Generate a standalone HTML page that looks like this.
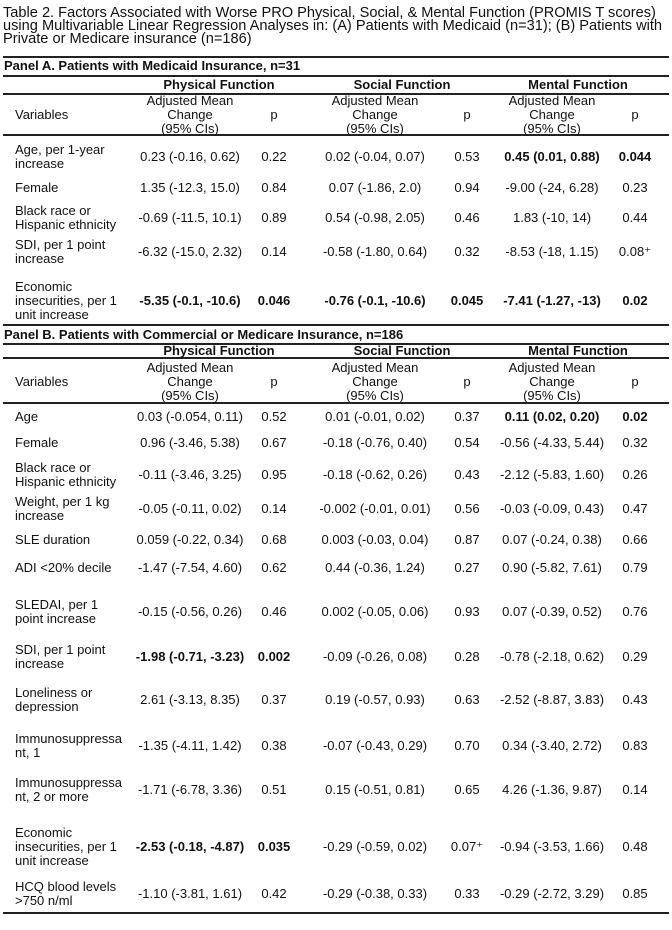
<!DOCTYPE html>
<html><head><meta charset="utf-8"><style>
body{margin:0;background:#fff;width:672px;height:930px;position:relative;overflow:hidden;font-family:"Liberation Sans",Arial,sans-serif;color:#111;}
.t{position:absolute;font-size:13px;line-height:14px;white-space:nowrap;}
.c{transform:translate(-50%,-50%);text-align:center;}
.l{transform:translate(0,-50%);}
.b{font-weight:bold;}
.hr{position:absolute;left:3px;width:666px;height:1.5px;background:#222;}
#title{position:absolute;left:3px;top:7px;font-size:14.6px;line-height:12.8px;}
</style></head><body>
<div id="title">Table 2. Factors Associated with Worse PRO Physical, Social, &amp; Mental Function (PROMIS T scores)<br>using Multivariable Linear Regression Analyses in: (A) Patients with Medicaid (n=31); (B) Patients with<br>Private or Medicare insurance (n=186)</div>
<script>
const colX=[190,274,375,467,552,635];
const groupX=[219,402,578];
const groups=["Physical Function","Social Function","Mental Function"];
const varsA=["Age, per 1-year<br>increase","Female","Black race or<br>Hispanic ethnicity","SDI, per 1 point<br>increase","Economic<br>insecurities, per 1<br>unit increase"];
const yA=[157,188,218,252,301];
const valsA=[
["0.23 (-0.16, 0.62)","0.22","0.02 (-0.04, 0.07)","0.53","*0.45 (0.01, 0.88)","*0.044"],
["1.35 (-12.3, 15.0)","0.84","0.07 (-1.86, 2.0)","0.94","-9.00 (-24, 6.28)","0.23"],
["-0.69 (-11.5, 10.1)","0.89","0.54 (-0.98, 2.05)","0.46","1.83 (-10, 14)","0.44"],
["-6.32 (-15.0, 2.32)","0.14","-0.58 (-1.80, 0.64)","0.32","-8.53 (-18, 1.15)","0.08⁺"],
["*-5.35 (-0.1, -10.6)","*0.046","*-0.76 (-0.1, -10.6)","*0.045","*-7.41 (-1.27, -13)","*0.02"]];
const varsB=["Age","Female","Black race or<br>Hispanic ethnicity","Weight, per 1 kg<br>increase","SLE duration","ADI &lt;20% decile","SLEDAI, per 1<br>point increase","SDI, per 1 point<br>increase","Loneliness or<br>depression","Immunosuppressa<br>nt, 1","Immunosuppressa<br>nt, 2 or more","Economic<br>insecurities, per 1<br>unit increase","HCQ blood levels<br>&gt;750 n/ml"];
const yB=[417,443,475,509,540,568,612,657,700,746,790,847,894];
const valsB=[
["0.03 (-0.054, 0.11)","0.52","0.01 (-0.01, 0.02)","0.37","*0.11 (0.02, 0.20)","*0.02"],
["0.96 (-3.46, 5.38)","0.67","-0.18 (-0.76, 0.40)","0.54","-0.56 (-4.33, 5.44)","0.32"],
["-0.11 (-3.46, 3.25)","0.95","-0.18 (-0.62, 0.26)","0.43","-2.12 (-5.83, 1.60)","0.26"],
["-0.05 (-0.11, 0.02)","0.14","-0.002 (-0.01, 0.01)","0.56","-0.03 (-0.09, 0.43)","0.47"],
["0.059 (-0.22, 0.34)","0.68","0.003 (-0.03, 0.04)","0.87","0.07 (-0.24, 0.38)","0.66"],
["-1.47 (-7.54, 4.60)","0.62","0.44 (-0.36, 1.24)","0.27","0.90 (-5.82, 7.61)","0.79"],
["-0.15 (-0.56, 0.26)","0.46","0.002 (-0.05, 0.06)","0.93","0.07 (-0.39, 0.52)","0.76"],
["*-1.98 (-0.71, -3.23)","*0.002","-0.09 (-0.26, 0.08)","0.28","-0.78 (-2.18, 0.62)","0.29"],
["2.61 (-3.13, 8.35)","0.37","0.19 (-0.57, 0.93)","0.63","-2.52 (-8.87, 3.83)","0.43"],
["-1.35 (-4.11, 1.42)","0.38","-0.07 (-0.43, 0.29)","0.70","0.34 (-3.40, 2.72)","0.83"],
["-1.71 (-6.78, 3.36)","0.51","0.15 (-0.51, 0.81)","0.65","4.26 (-1.36, 9.87)","0.14"],
["*-2.53 (-0.18, -4.87)","*0.035","-0.29 (-0.59, 0.02)","0.07⁺","-0.94 (-3.53, 1.66)","0.48"],
["-1.10 (-3.81, 1.61)","0.42","-0.29 (-0.38, 0.33)","0.33","-0.29 (-2.72, 3.29)","0.85"]];
const linesY=[57,76,94,135,325,344,358,403,913];
function txt(html,x,y,cls,name){
  const d=document.createElement('div');
  d.className='t '+cls;d.innerHTML=html;d.style.left=x+'px';d.style.top=y+'px';
  
  
  document.body.appendChild(d);return d;
}
linesY.forEach((y,i)=>{
  const h=document.createElement('div');h.className='hr';h.style.top=(y-0.75)+'px';
  
  
  document.body.appendChild(h);
});
function panel(title,titleY,gY,hY,vars,ys,vals,pfx){
  txt(title,4,titleY,'l b',pfx+'-title');
  groups.forEach((g,i)=>txt(g,groupX[i],gY,'c b',pfx+'-group-header'));
  txt('Variables',15,hY,'l',pfx+'-variables-header');
  for(let i=0;i<3;i++){
    txt('Adjusted Mean<br>Change<br>(95% CIs)',colX[i*2],hY,'c',pfx+'-estimate-header');
    txt('p',colX[i*2+1],hY,'c',pfx+'-p-header');
  }
  vars.forEach((v,r)=>{
    txt(v,15,ys[r],'l',pfx+'-variable-label');
    vals[r].forEach((s,c)=>{
      const bold=s[0]==='*';
      txt(bold?s.slice(1):s,colX[c],ys[r],'c'+(bold?' b':''),pfx+(c%2?'-p-value':'-estimate'));
    });
  });
}
panel('Panel A. Patients with Medicaid Insurance, n=31',66,85,115,varsA,yA,valsA,'panel-a');
panel('Panel B. Patients with Commercial or Medicare Insurance, n=186',335,351,382,varsB,yB,valsB,'panel-b');
</script>
</body></html>
